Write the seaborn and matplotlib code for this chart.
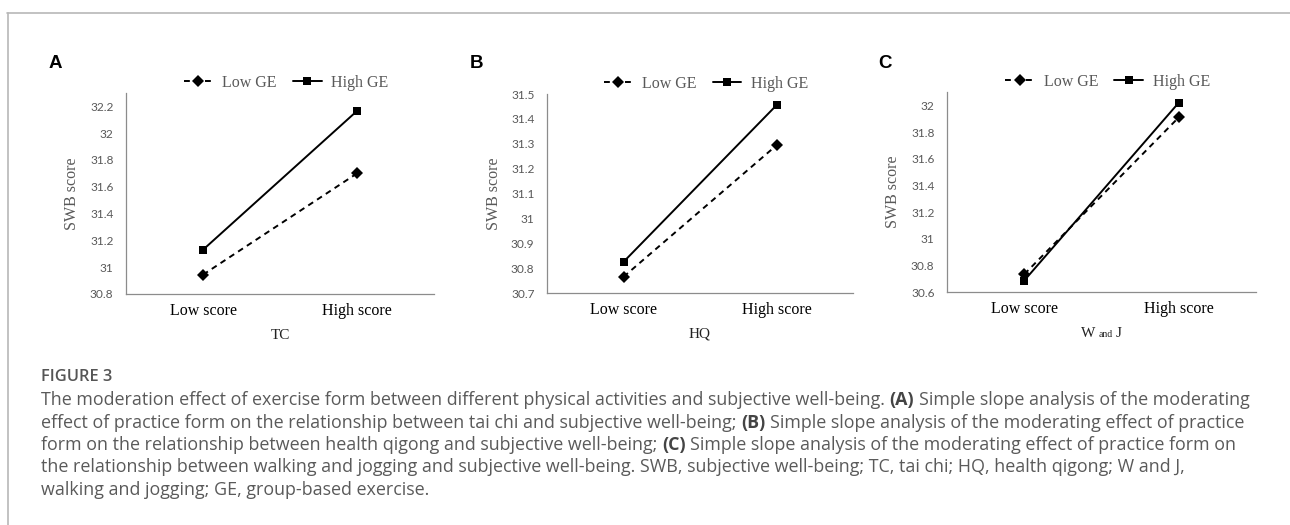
import matplotlib
matplotlib.use("Agg")
import matplotlib.pyplot as plt
import pandas as pd
import seaborn as sns
from matplotlib.lines import Line2D
from matplotlib.offsetbox import TextArea, HPacker, AnnotationBbox
from matplotlib.ticker import FixedLocator, FuncFormatter

#----------------------------------------------
''' DATA '''
#----------------------------------------------

levels = ["Low score", "High score"]
groups = ["Low GE", "High GE"]
letters = ["A", "B", "C"]

tc_low_ge = [30.944, 31.700]
tc_high_ge = [31.130, 32.166]
hq_low_ge = [30.766, 31.294]
hq_high_ge = [30.826, 31.455]
wj_low_ge = [30.735, 31.910]
wj_high_ge = [30.688, 32.020]

tc_ticks = [30.8, 31.0, 31.2, 31.4, 31.6, 31.8, 32.0, 32.2]
hq_ticks = [30.7, 30.8, 30.9, 31.0, 31.1, 31.2, 31.3, 31.4, 31.5]
wj_ticks = [30.6, 30.8, 31.0, 31.2, 31.4, 31.6, 31.8, 32.0]

panels = [
    ("TC", tc_low_ge, tc_high_ge, tc_ticks, (30.8, 32.3)),
    ("HQ", hq_low_ge, hq_high_ge, hq_ticks, (30.7, 31.5)),
    ("W and J", wj_low_ge, wj_high_ge, wj_ticks, (30.6, 32.1)),
]

caption_title = "FIGURE 3"
caption_lines = [
    [("The moderation effect of exercise form between different physical activities and subjective well-being.", False),
     ("(A)", True), ("Simple slope analysis of the moderating", False)],
    [("effect of practice form on the relationship between tai chi and subjective well-being;", False),
     ("(B)", True), ("Simple slope analysis of the moderating effect of practice", False)],
    [("form on the relationship between health qigong and subjective well-being;", False),
     ("(C)", True), ("Simple slope analysis of the moderating effect of practice form on", False)],
    [("the relationship between walking and jogging and subjective well-being. SWB, subjective well-being; "
      "TC, tai chi; HQ, health qigong; W and J,", False)],
    [("walking and jogging; GE, group-based exercise.", False)],
]

#----------------------------------------------
''' STYLE '''
#----------------------------------------------

sns.set_style("white")
plt.rcParams['font.family'] = ['Liberation Serif', 'DejaVu Serif']

SERIF = "Liberation Serif"
TICKFONT = "Lato"
CAPFONT = "Open Sans"
GRAY = "#595959"
AXCOL = "#8c8c8c"

W, H = 1290, 525
fig = plt.figure(figsize=(W / 100, H / 100), dpi=100)

# axes boxes in pixels: left, right, top, bottom
axes_px = [(126, 434, 93, 294), (547, 853, 94, 293.3), (947, 1256, 92, 292.3)]
letter_px = [(49, 63), (470, 63), (878, 63)]

#----------------------------------------------
''' PLOT '''
#----------------------------------------------

for i, (name, low_ge, high_ge, ticks, ylim) in enumerate(panels):
    l, r, t, b = axes_px[i]
    ax = fig.add_axes([l / W, 1 - b / H, (r - l) / W, (b - t) / H])

    df = pd.DataFrame({
        "level": levels * 2,
        "SWB": low_ge + high_ge,
        "group": [groups[0]] * 2 + [groups[1]] * 2,
    })
    sns.lineplot(data=df, x="level", y="SWB", hue="group", style="group",
                 hue_order=groups, style_order=groups,
                 palette={groups[0]: "black", groups[1]: "black"},
                 markers={groups[0]: "D", groups[1]: "s"},
                 dashes={groups[0]: (3, 2.4), groups[1]: ""},
                 markersize=6, markeredgewidth=0, linewidth=1.4,
                 sort=False, ax=ax)
    if ax.get_legend() is not None:
        ax.get_legend().remove()

    ax.set_xlim(-0.5, 1.5)
    ax.set_ylim(*ylim)
    ax.yaxis.set_major_locator(FixedLocator(ticks))
    ax.yaxis.set_major_formatter(FuncFormatter(lambda v, p: f"{round(v, 2):g}"))
    ax.xaxis.set_minor_locator(FixedLocator([-0.5, 0.5, 1.5]))

    for side in ["top", "right"]:
        ax.spines[side].set_visible(False)
    for side in ["left", "bottom"]:
        ax.spines[side].set_color(AXCOL)
        ax.spines[side].set_linewidth(0.9)

    ax.tick_params(axis="y", direction="out", length=3, width=0.9, color=AXCOL,
                   pad=6, labelsize=8.6, labelcolor=GRAY)
    for lab in ax.get_yticklabels():
        lab.set_fontfamily(TICKFONT)
    ax.tick_params(axis="x", which="major", length=0, pad=6.5,
                   labelsize=11.5, labelcolor="black")
    ax.tick_params(axis="x", which="minor", direction="in", length=3.6,
                   width=0.9, color=AXCOL)

    ax.set_ylabel("SWB score", fontsize=11.5, color=GRAY, family=SERIF)
    ax.yaxis.set_label_coords(-0.148, 0.5)
    ax.set_xlabel("")

    # x label (W and J uses a smaller "and")
    if name == "W and J":
        parts = [("W", 11), ("and", 7), ("J", 11)]
    else:
        parts = [(name, 11)]
    box = HPacker(children=[TextArea(s, textprops=dict(fontsize=fs, family=SERIF, color="#222222"))
                            for s, fs in parts],
                  align="baseline", pad=0, sep=2)
    ax.add_artist(AnnotationBbox(box, (0.5, -0.205), xycoords="axes fraction",
                                 box_alignment=(0.5, 0.5), frameon=False, pad=0,
                                 annotation_clip=False))

    ax.legend(ax.lines[:2], groups, loc="center", bbox_to_anchor=(0.52, 1.05),
              ncol=2, frameon=False, handlelength=1.8, handletextpad=0.6,
              columnspacing=1.0, borderaxespad=0, borderpad=0, numpoints=1,
              prop=dict(family=SERIF, size=11.5), labelcolor=GRAY)

    lx, ly = letter_px[i]
    fig.text(lx / W, 1 - ly / H, letters[i], fontsize=13.5, fontweight="bold",
             family="Liberation Sans", ha="left", va="center", color="black")

#----------------------------------------------
''' FRAME AND CAPTION '''
#----------------------------------------------

fig.add_artist(Line2D([7 / W, 1], [1 - 13 / H, 1 - 13 / H], transform=fig.transFigure,
                      color="#b8b8b8", lw=1.2))
fig.add_artist(Line2D([8 / W, 8 / W], [0, 1 - 13 / H], transform=fig.transFigure,
                      color="#b8b8b8", lw=1.2))

# fit caption size to the width of the first line
renderer = fig.canvas.get_renderer()
probe = fig.text(0, 0, " ".join(s for s, _ in caption_lines[0]), fontsize=10, family=CAPFONT)
cap_fs = 10 * 1214 / probe.get_window_extent(renderer).width
probe.remove()

fig.text(41 / W, 1 - 377 / H, caption_title, fontsize=cap_fs * 0.92, fontweight="semibold",
         family=CAPFONT, color="#555555", ha="left", va="center")

line_y = [400, 423, 445, 467, 490]
for parts, y in zip(caption_lines, line_y):
    kids = [TextArea(s, textprops=dict(fontsize=cap_fs, family=CAPFONT,
                                       fontweight="bold" if bold else "normal",
                                       color="#444444" if bold else "#5a5a5a"))
            for s, bold in parts]
    box = HPacker(children=kids, align="baseline", pad=0, sep=cap_fs * 0.26)
    fig.add_artist(AnnotationBbox(box, (41 / W, 1 - y / H), xycoords="figure fraction",
                                  box_alignment=(0, 0.5), frameon=False, pad=0))

fig.savefig("out.png", dpi=100)
